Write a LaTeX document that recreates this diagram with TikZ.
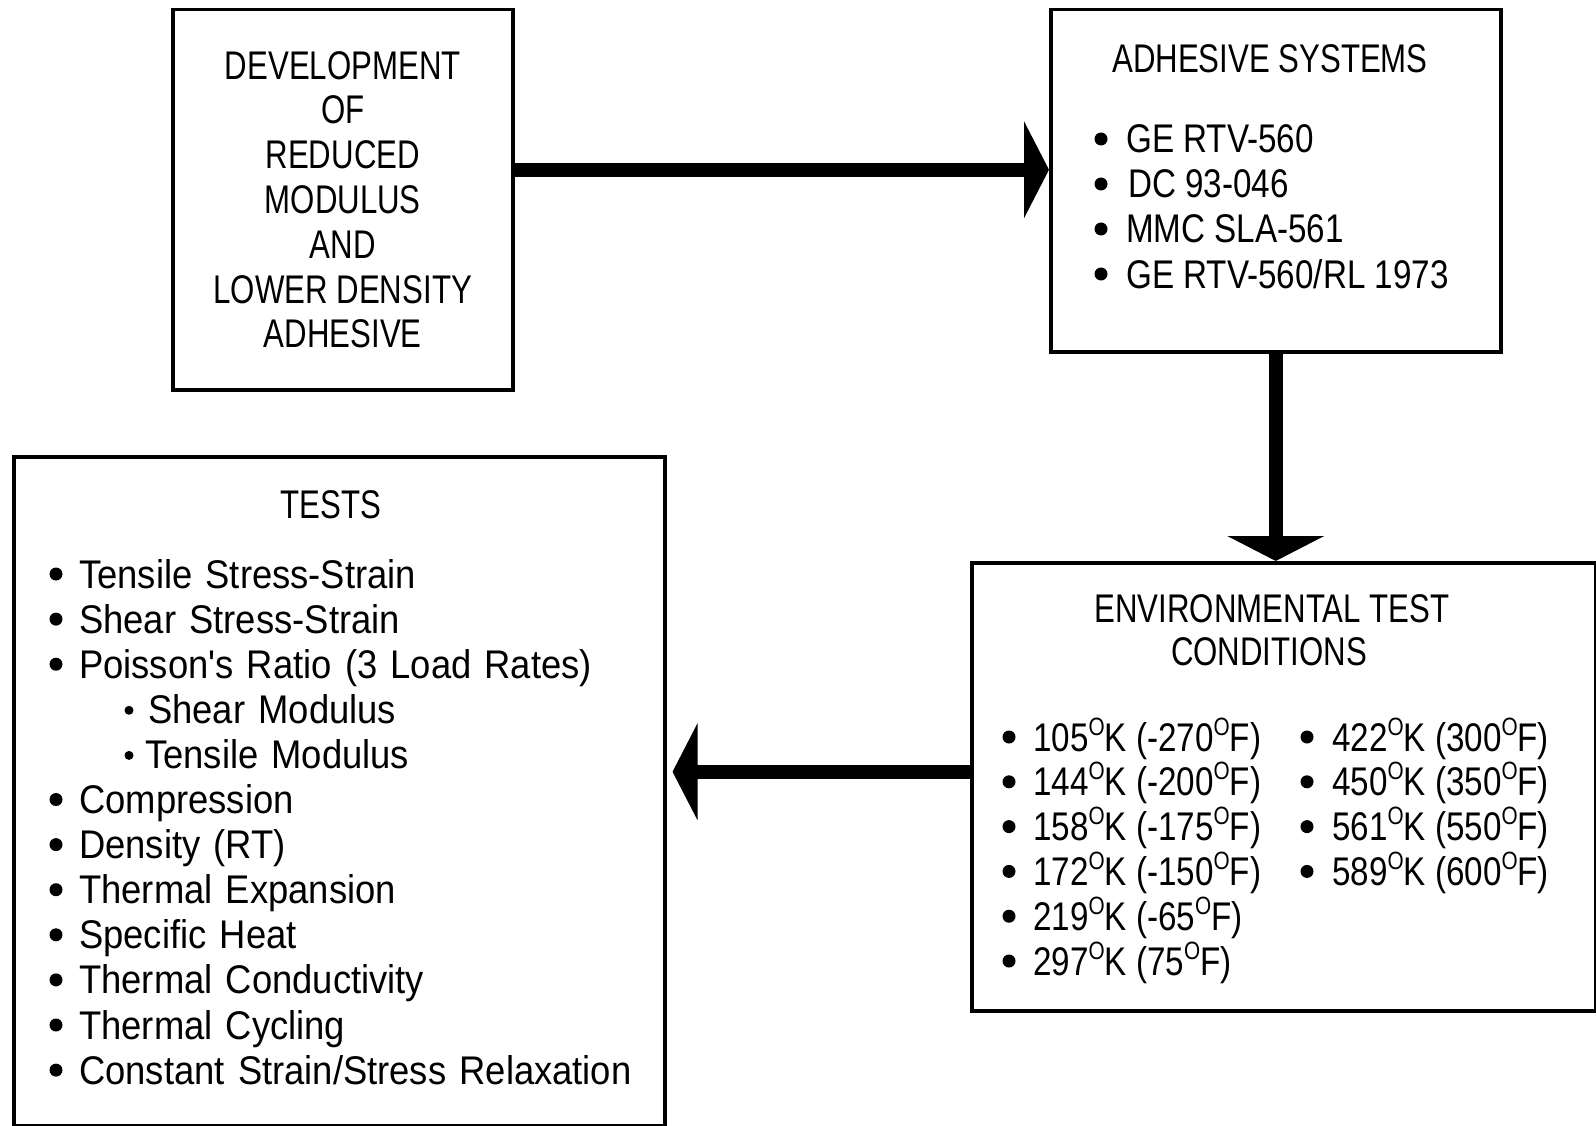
\documentclass[tikz,border=0pt]{standalone}
\usepackage{fontspec}
\setmainfont{Liberation Sans}
\newfontfamily\fA{Liberation Sans}[FakeStretch=0.78]
\newfontfamily\fB{Liberation Sans}[FakeStretch=0.83]
\newfontfamily\fC{Liberation Sans}[FakeStretch=0.91,WordSpace=1.3]
\usetikzlibrary{arrows.meta}
\newcommand\dg{\smash{\raisebox{16pt}{\fontsize{25}{25}\selectfont O}}}
\begin{document}
\begin{tikzpicture}[x=1pt,y=-1pt,
  box/.style={draw, line width=3.5pt, inner sep=0pt, anchor=north west},
  capt/.style={inner sep=0pt, anchor=base, font=\fA\fontsize{40}{45}\selectfont},
  itemA/.style={inner sep=0pt, anchor=base west, font=\fB\fontsize{40}{45}\selectfont},
  itemT/.style={inner sep=0pt, anchor=base west, font=\fC\fontsize{40}{45}\selectfont},
  bigarrow/.style={line width=14pt, -{Triangle[width=96pt,length=25pt]}}]
\useasboundingbox (0,0) rectangle (1596,1126);
\fill[white] (0,0) rectangle (1596,1126);

% boxes
\node[box, minimum width=340pt, minimum height=380pt, align=center,
      font=\fA\fontsize{40}{44.8}\selectfont] (b1) at (171,8)
  {DEVELOPMENT\\OF\\REDUCED\\MODULUS\\AND\\LOWER DENSITY\\ADHESIVE};
\node[box, minimum width=450pt, minimum height=342pt] (b2) at (1049,8) {};
\node[box, minimum width=651pt, minimum height=669pt] (b3) at (12,455) {};
\node[box, minimum width=624pt, minimum height=448pt] (b4) at (970,561) {};

% adhesive systems
\node[capt] (t2) at (1270,73) {ADHESIVE SYSTEMS};
\node[itemA] (a1) at (1126,153) {GE RTV-560};
\node[itemA] (a2) at (1128,198) {DC 93-046};
\node[itemA] (a3) at (1126,243) {MMC SLA-561};
\node[itemA] (a4) at (1126,288) {GE RTV-560/RL 1973};
\foreach \y in {153,198,243,288} \fill (1101,\y-14) circle (6.5pt);

% tests
\node[capt] (t3) at (331,518) {TESTS};
\node[itemT] (c1) at (79,588) {Tensile Stress-Strain};
\node[itemT] (c2) at (79,633.1) {Shear Stress-Strain};
\node[itemT] (c3) at (79,678.2) {Poisson's Ratio (3 Load Rates)};
\node[itemT] (c4) at (148,723.3) {Shear Modulus};
\node[itemT] (c5) at (145,768.4) {Tensile Modulus};
\node[itemT] (c6) at (79,813.5) {Compression};
\node[itemT] (c7) at (79,858.6) {Density (RT)};
\node[itemT] (c8) at (79,903.7) {Thermal Expansion};
\node[itemT] (c9) at (79,948.8) {Specific Heat};
\node[itemT] (c10) at (79,993.9) {Thermal Conductivity};
\node[itemT] (c11) at (79,1039) {Thermal Cycling};
\node[itemT] (c12) at (79,1084.1) {Constant Strain/Stress Relaxation};
\foreach \y in {588,633.1,678.2,813.5,858.6,903.7,948.8,993.9,1039,1084.1}
  \fill (56,\y-14) circle (6.5pt);
\foreach \y in {723.3,768.4} \fill (129,\y-13) circle (4.5pt);

% environmental test conditions
\node[capt] (t4a) at (1272,622) {ENVIRONMENTAL TEST};
\node[capt] (t4b) at (1269,665) {CONDITIONS};
\node[itemA] (e1) at (1033,751) {105\dg K (-270\dg F)};
\node[itemA] (e2) at (1033,795.8) {144\dg K (-200\dg F)};
\node[itemA] (e3) at (1033,840.6) {158\dg K (-175\dg F)};
\node[itemA] (e4) at (1033,885.4) {172\dg K (-150\dg F)};
\node[itemA] (e5) at (1033,930.2) {219\dg K (-65\dg F)};
\node[itemA] (e6) at (1033,975) {297\dg K (75\dg F)};
\node[itemA] (f1) at (1332,751) {422\dg K (300\dg F)};
\node[itemA] (f2) at (1332,795.8) {450\dg K (350\dg F)};
\node[itemA] (f3) at (1332,840.6) {561\dg K (550\dg F)};
\node[itemA] (f4) at (1332,885.4) {589\dg K (600\dg F)};
\foreach \y in {751,795.8,840.6,885.4,930.2,975} \fill (1009,\y-14) circle (6.5pt);
\foreach \y in {751,795.8,840.6,885.4} \fill (1307,\y-14) circle (6.5pt);

% connectors
\draw[bigarrow] ([yshift=30pt]b1.east) -- ([yshift=30pt]b1.east -| b2.west);
\draw[bigarrow] (b2.south) -- (b2.south |- b4.north);
\draw[bigarrow, shorten >=6pt] ([yshift=15pt]b4.west) -- ([yshift=15pt]b4.west -| b3.east);
\end{tikzpicture}
\end{document}
